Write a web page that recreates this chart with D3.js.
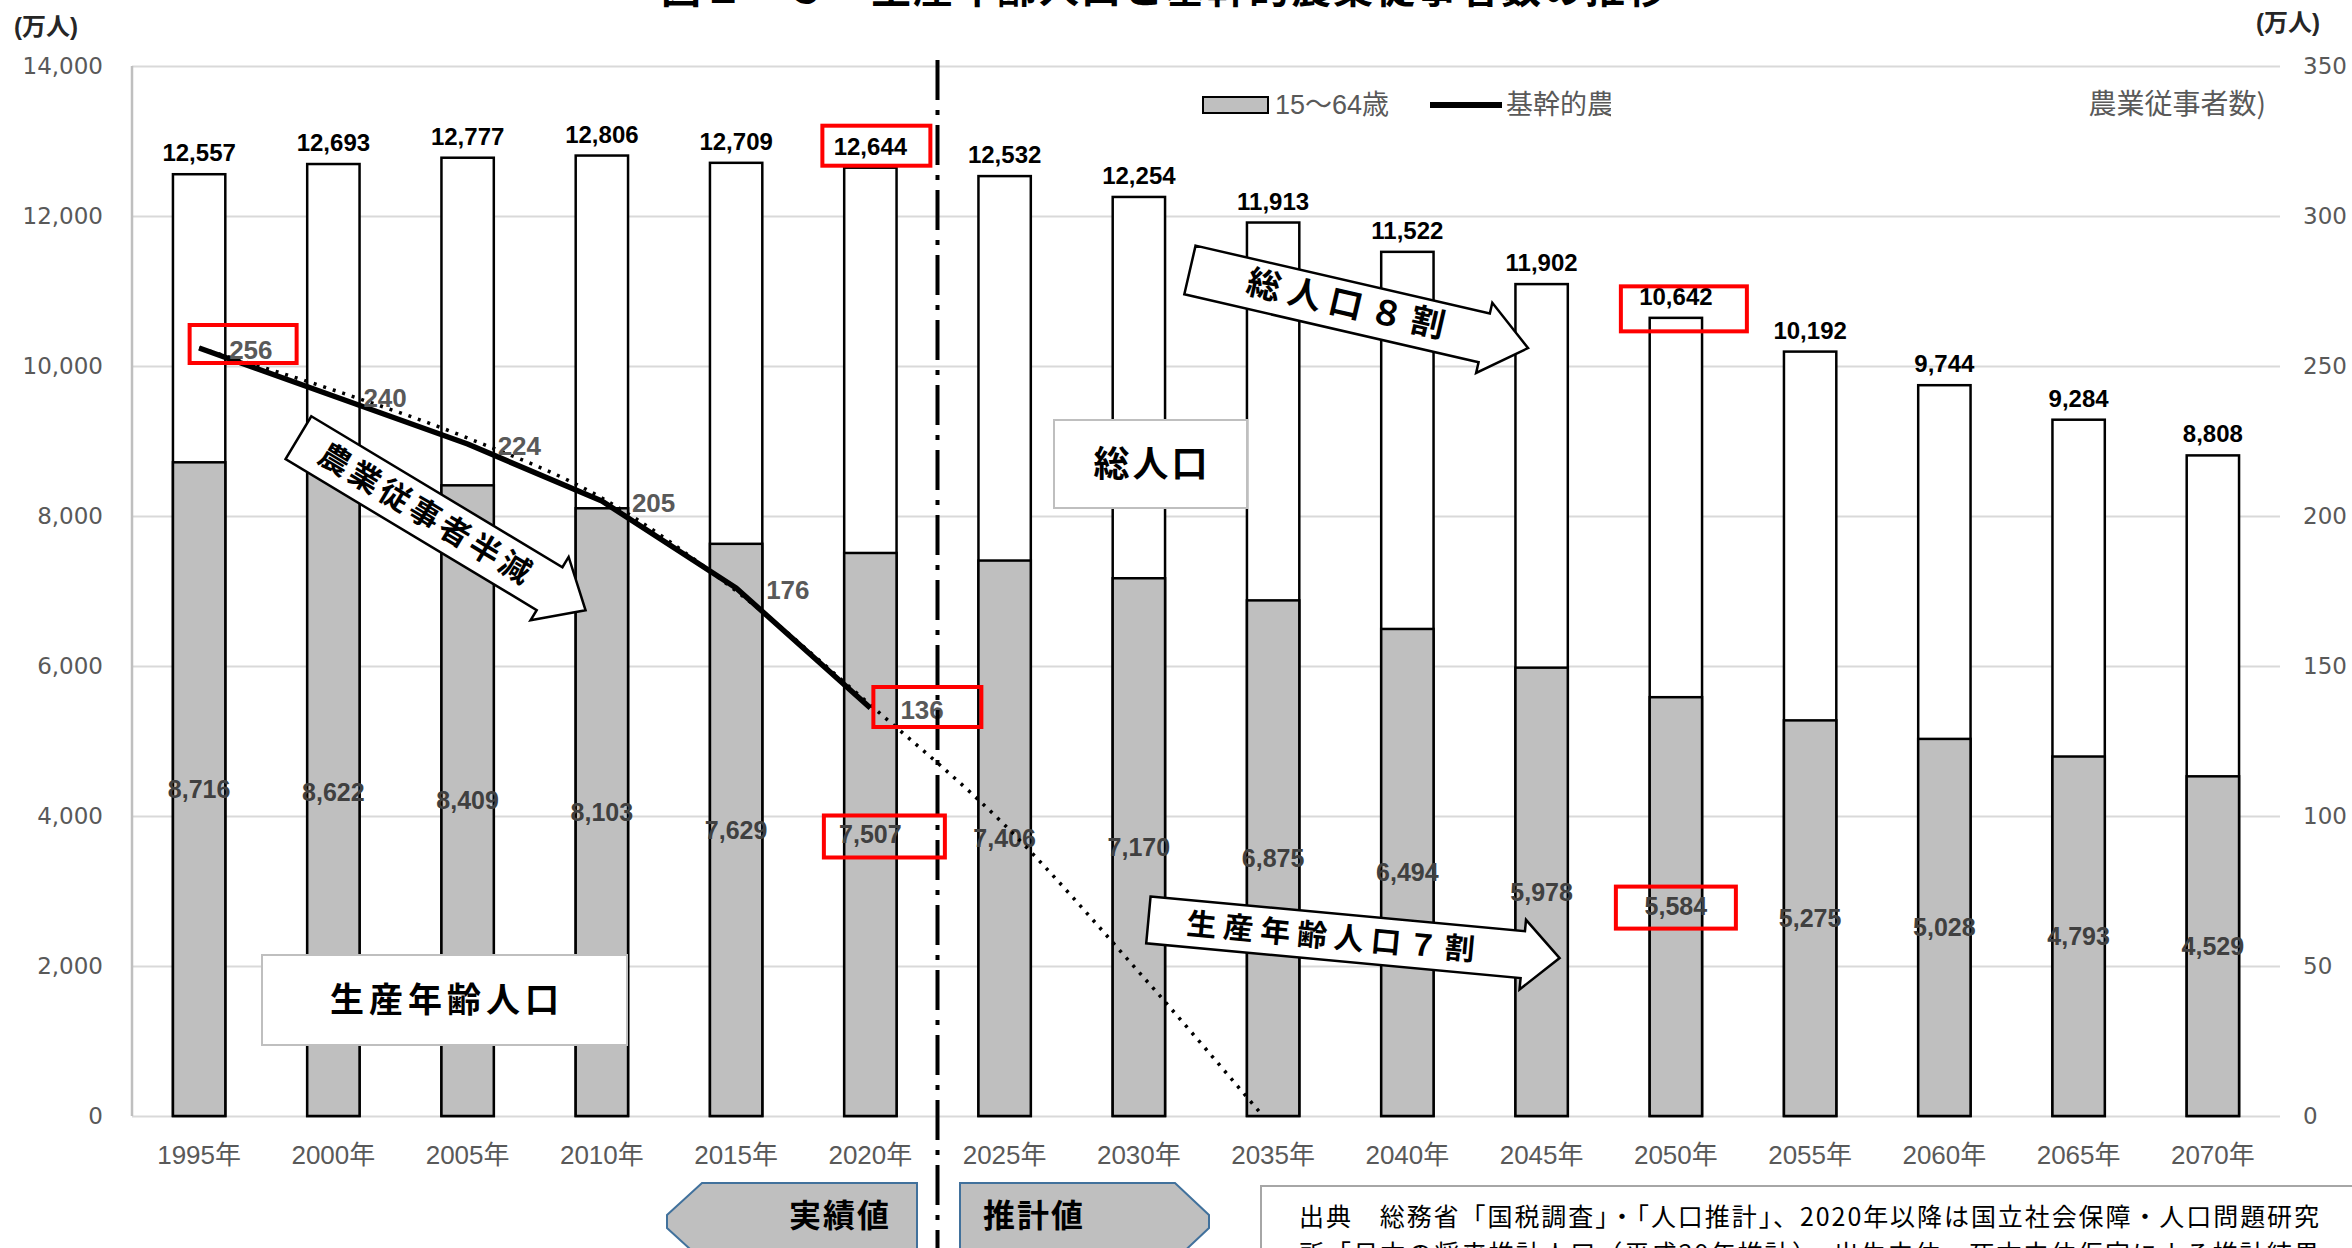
<!DOCTYPE html>
<html>
<head>
<meta charset="utf-8">
<script src="https://cdn.jsdelivr.net/npm/d3@7"></script>
<style>
body { margin: 0; background: #fff; }
svg { display: block; }
text { font-family: "Liberation Sans", "Noto Sans CJK JP", sans-serif; }
.cjk { font-family: "Noto Sans CJK JP", "Liberation Sans", sans-serif; }
</style>
</head>
<body>
<div id="chart"></div>
<script>
// data
const years = ["1995年", "2000年", "2005年", "2010年", "2015年", "2020年", "2025年", "2030年",
  "2035年", "2040年", "2045年", "2050年", "2055年", "2060年", "2065年", "2070年"];
const totalPop = [12557, 12693, 12777, 12806, 12709, 12644, 12532, 12254, 11913, 11522, 11092, 10642, 10192, 9744, 9284, 8808];
// label printed on the chart (2045 label differs from its bar)
const totalLabel = [12557, 12693, 12777, 12806, 12709, 12644, 12532, 12254, 11913, 11522, 11902, 10642, 10192, 9744, 9284, 8808];
const workingAge = [8716, 8622, 8409, 8103, 7629, 7507, 7406, 7170, 6875, 6494, 5978, 5584, 5275, 5028, 4793, 4529];
const farmYears = years.slice(0, 6);
const farmers = [256, 240, 224, 205, 176, 136];
const trendYears = years.slice(0, 9);
const farmTrend = [256, 242, 226, 206, 175, 137, 97, 48, -4];
const leftTicks = [0, 2000, 4000, 6000, 8000, 10000, 12000, 14000];
const rightTicks = [0, 50, 100, 150, 200, 250, 300, 350];

const svgWidth = 2352, svgHeight = 1248;
const plot = { left: 132, right: 2280, top: 66, bottom: 1116 };

const svg = d3.select("#chart").append("svg")
  .attr("width", svgWidth)
  .attr("height", svgHeight);

const x = d3.scaleBand().domain(years)
  .range([plot.left, plot.right])
  .paddingInner(0.61).paddingOuter(0.305);
const bw = x.bandwidth();
const cx = d => x(d) + bw / 2;
const yL = d3.scaleLinear().domain([0, 14000]).range([plot.bottom, plot.top]);
const yR = d3.scaleLinear().domain([0, 350]).range([plot.bottom, plot.top]);
const fmt = d3.format(",");

// title (cut off at the top edge, as in the source picture)
svg.append("text").attr("class", "cjk")
  .attr("x", 661).attr("y", 3)
  .attr("textLength", 1006).attr("lengthAdjust", "spacing")
  .style("font-size", "40px").style("font-weight", "bold")
  .text("図１－５　生産年齢人口と基幹的農業従事者数の推移");

// left axis with gridlines
const leftAxis = svg.append("g")
  .attr("transform", `translate(${plot.left},0)`)
  .call(d3.axisLeft(yL).tickValues(leftTicks).tickFormat(fmt)
    .tickSize(-(plot.right - plot.left)).tickPadding(29));
leftAxis.select(".domain").remove();
leftAxis.selectAll("line").attr("stroke", "#d9d9d9").attr("stroke-width", 2);
leftAxis.selectAll("text")
  .style("font-family", "'DejaVu Sans', sans-serif")
  .style("font-size", "23px").attr("fill", "#595959");

svg.append("line")
  .attr("x1", plot.left).attr("x2", plot.left)
  .attr("y1", plot.top).attr("y2", plot.bottom)
  .attr("stroke", "#bfbfbf").attr("stroke-width", 2.5);

// right axis
const rightAxis = svg.append("g")
  .attr("transform", `translate(${plot.right},0)`)
  .call(d3.axisRight(yR).tickValues(rightTicks).tickSize(0).tickPadding(23));
rightAxis.select(".domain").remove();
rightAxis.selectAll("text")
  .style("font-family", "'DejaVu Sans', sans-serif")
  .style("font-size", "23px").attr("fill", "#595959");

// x axis labels
const xAxis = svg.append("g")
  .attr("transform", `translate(0,${plot.bottom})`)
  .call(d3.axisBottom(x).tickSize(0).tickPadding(30));
xAxis.select(".domain").remove();
xAxis.selectAll("text").style("font-size", "26px").attr("fill", "#595959");

// unit labels
svg.append("text").attr("x", 14).attr("y", 35)
  .style("font-size", "24px").style("font-weight", "bold").attr("fill", "#262626")
  .text("(万人)");
svg.append("text").attr("x", 2256).attr("y", 31)
  .style("font-size", "24px").style("font-weight", "bold").attr("fill", "#262626")
  .text("(万人)");

// bars: total population (white) and 15-64 (grey) overlapping
svg.append("g").selectAll("rect")
  .data(years)
  .enter()
  .append("rect")
  .attr("x", d => x(d))
  .attr("y", (d, i) => yL(totalPop[i]))
  .attr("width", bw)
  .attr("height", (d, i) => yL(0) - yL(totalPop[i]))
  .attr("fill", "#fff").attr("stroke", "#000").attr("stroke-width", 2.5);

svg.append("g").selectAll("rect")
  .data(years)
  .enter()
  .append("rect")
  .attr("x", d => x(d))
  .attr("y", (d, i) => yL(workingAge[i]))
  .attr("width", bw)
  .attr("height", (d, i) => yL(0) - yL(workingAge[i]))
  .attr("fill", "#bfbfbf").attr("stroke", "#000").attr("stroke-width", 2.5);

svg.append("g").selectAll("text")
  .data(years)
  .enter()
  .append("text")
  .attr("x", d => cx(d))
  .attr("y", (d, i) => yL(totalPop[i]) - 13)
  .attr("text-anchor", "middle")
  .style("font-size", "24px").style("font-weight", "bold").attr("fill", "#000")
  .text((d, i) => fmt(totalLabel[i]));

svg.append("g").selectAll("text")
  .data(years)
  .enter()
  .append("text")
  .attr("x", d => cx(d))
  .attr("y", (d, i) => yL(workingAge[i] / 2))
  .attr("dy", "0.35em")
  .attr("text-anchor", "middle")
  .style("font-size", "25px").style("font-weight", "bold").attr("fill", "#404040")
  .text((d, i) => fmt(workingAge[i]));

// legend
svg.append("rect").attr("x", 1203).attr("y", 97).attr("width", 65).attr("height", 16)
  .attr("fill", "#bfbfbf").attr("stroke", "#000").attr("stroke-width", 2);
svg.append("text").attr("x", 1275).attr("y", 114)
  .style("font-size", "27px").attr("fill", "#595959").text("15〜64歳");
svg.append("line").attr("x1", 1430).attr("x2", 1502).attr("y1", 105).attr("y2", 105)
  .attr("stroke", "#000").attr("stroke-width", 6);
svg.append("text").attr("class", "cjk").attr("x", 1506).attr("y", 114)
  .style("font-size", "27px").attr("fill", "#595959").text("基幹的農業従事者数");
svg.append("rect").attr("x", 1611).attr("y", 80).attr("width", 460).attr("height", 45)
  .attr("fill", "#fff");
svg.append("text").attr("class", "cjk").attr("x", 2266).attr("y", 114)
  .attr("text-anchor", "end")
  .style("font-size", "28px").attr("fill", "#595959").text("農業従事者数)");

// farmers: trend (dotted) and actual (solid)
svg.append("clipPath").attr("id", "plotclip")
  .append("rect")
  .attr("x", plot.left).attr("y", plot.top)
  .attr("width", plot.right - plot.left).attr("height", plot.bottom - plot.top);

const trendLine = d3.line()
  .x((d, i) => cx(trendYears[i]))
  .y(d => yR(d))
  .curve(d3.curveMonotoneX);
svg.append("path")
  .datum(farmTrend)
  .attr("clip-path", "url(#plotclip)")
  .attr("d", trendLine)
  .attr("fill", "none").attr("stroke", "#000").attr("stroke-width", 3.5)
  .attr("stroke-dasharray", "3,7");

const farmLine = d3.line()
  .x((d, i) => cx(farmYears[i]))
  .y(d => yR(d));
svg.append("path")
  .datum(farmers)
  .attr("d", farmLine)
  .attr("fill", "none").attr("stroke", "#000").attr("stroke-width", 5.5)
  .attr("stroke-linejoin", "round");

svg.append("g").selectAll("text")
  .data(farmers)
  .enter()
  .append("text")
  .attr("x", (d, i) => cx(farmYears[i]) + 30)
  .attr("y", (d, i) => yR(d) + 2)
  .attr("dy", "0.35em")
  .style("font-size", "26px").style("font-weight", "bold").attr("fill", "#595959")
  .text(d => d);

// divider between actual and projected
const divX = x("2025年") - (x.step() - bw) / 2;
svg.append("line")
  .attr("x1", divX).attr("x2", divX).attr("y1", 60).attr("y2", svgHeight)
  .attr("stroke", "#000").attr("stroke-width", 4)
  .attr("stroke-dasharray", "40,10,5,10");

// label boxes
function labelBox(bx, by, w, h, label, size, spacing) {
  svg.append("rect").attr("x", bx).attr("y", by).attr("width", w).attr("height", h)
    .attr("fill", "#fff").attr("stroke", "#bfbfbf").attr("stroke-width", 2);
  svg.append("text").attr("class", "cjk")
    .attr("x", bx + w / 2 + spacing / 2).attr("y", by + h / 2).attr("dy", "0.35em")
    .attr("text-anchor", "middle")
    .style("font-size", size + "px").style("font-weight", "bold")
    .style("letter-spacing", spacing + "px")
    .text(label);
}
labelBox(1054, 420, 193, 88, "総人口", 36, 3);
labelBox(262, 955, 365, 90, "生産年齢人口", 34, 5);

// block arrows
function blockArrow(o) {
  const L = o.length / 2, b = o.bodyW / 2, h = o.headW / 2, hb = L - o.headL;
  const g = svg.append("g")
    .attr("transform", `translate(${o.cx},${o.cy}) rotate(${o.angle})`);
  g.append("path")
    .attr("d", `M${-L},${-b}L${hb},${-b}L${hb},${-h}L${L},0L${hb},${h}L${hb},${b}L${-L},${b}Z`)
    .attr("fill", "#fff").attr("stroke", "#000").attr("stroke-width", 2.5)
    .attr("stroke-linejoin", "miter");
  g.append("text").attr("class", "cjk")
    .attr("x", o.tx).attr("y", o.ty).attr("dy", "0.35em")
    .attr("text-anchor", "middle")
    .style("font-size", o.size + "px").style("font-weight", "bold")
    .style("letter-spacing", o.spacing + "px")
    .text(o.label);
}
blockArrow({ cx: 442, cy: 524, angle: 31, length: 335, bodyW: 50, headW: 74, headL: 42,
  label: "農業従事者半減", size: 31, spacing: 4, tx: -18, ty: 0 });
blockArrow({ cx: 1359, cy: 309, angle: 13, length: 347, bodyW: 50, headW: 72, headL: 45,
  label: "総人口８割", size: 34, spacing: 8, tx: -10, ty: -2 });
blockArrow({ cx: 1354, cy: 939, angle: 5.3, length: 413, bodyW: 47, headW: 70, headL: 37,
  label: "生産年齢人口７割", size: 30, spacing: 7, tx: -20, ty: 0 });

// red highlight boxes, placed on the labels they mark
const iOf = y => years.indexOf(y);
const highlights = [
  { x: cx("2020年") + 6, y: yL(totalPop[iOf("2020年")]) - 22, w: 108, h: 40 },
  { x: cx("1995年") + 44, y: yR(farmers[0]) - 4, w: 107, h: 38 },
  { x: cx("2020年") + 57, y: yR(farmers[5]) - 1, w: 108, h: 40 },
  { x: cx("2020年") + 14, y: yL(workingAge[iOf("2020年")] / 2) + 2, w: 121, h: 42 },
  { x: cx("2050年") + 8, y: yL(totalPop[iOf("2050年")]) - 9, w: 126, h: 45 },
  { x: cx("2050年"), y: yL(workingAge[iOf("2050年")] / 2) + 1, w: 120, h: 42 }
];
svg.append("g").selectAll("rect")
  .data(highlights)
  .enter()
  .append("rect")
  .attr("x", d => d.x - d.w / 2).attr("y", d => d.y - d.h / 2)
  .attr("width", d => d.w).attr("height", d => d.h)
  .attr("fill", "none").attr("stroke", "#ff0000").attr("stroke-width", 4);

// actual / projected tags
svg.append("path")
  .attr("d", "M667,1215L702,1183L917,1183L917,1260L702,1260L667,1228Z")
  .attr("fill", "#bfbfbf").attr("stroke", "#41719c").attr("stroke-width", 2);
svg.append("text").attr("class", "cjk").attr("x", 891).attr("y", 1216).attr("dy", "0.35em")
  .attr("text-anchor", "end")
  .style("font-size", "32px").style("font-weight", "bold").style("letter-spacing", "2px")
  .text("実績値");
svg.append("path")
  .attr("d", "M960,1183L1175,1183L1209,1215L1209,1228L1175,1260L960,1260Z")
  .attr("fill", "#bfbfbf").attr("stroke", "#41719c").attr("stroke-width", 2);
svg.append("text").attr("class", "cjk").attr("x", 983).attr("y", 1216).attr("dy", "0.35em")
  .style("font-size", "32px").style("font-weight", "bold").style("letter-spacing", "2px")
  .text("推計値");

// source note (second line runs off the bottom edge, as in the source picture)
svg.append("rect").attr("x", 1261).attr("y", 1186).attr("width", 1120).attr("height", 120)
  .attr("fill", "#fff").attr("stroke", "#a6a6a6").attr("stroke-width", 2);
svg.append("text").attr("class", "cjk").attr("x", 1299).attr("y", 1226)
  .attr("textLength", 1020).attr("lengthAdjust", "spacing")
  .style("font-size", "25px")
  .text("出典　総務省「国税調査」・「人口推計」、2020年以降は国立社会保障・人口問題研究");
svg.append("text").attr("class", "cjk").attr("x", 1299).attr("y", 1263)
  .attr("textLength", 1020).attr("lengthAdjust", "spacing")
  .style("font-size", "25px")
  .text("所「日本の将来推計人口（平成29年推計）」出生中位・死亡中位仮定による推計結果");
</script>
</body>
</html>
